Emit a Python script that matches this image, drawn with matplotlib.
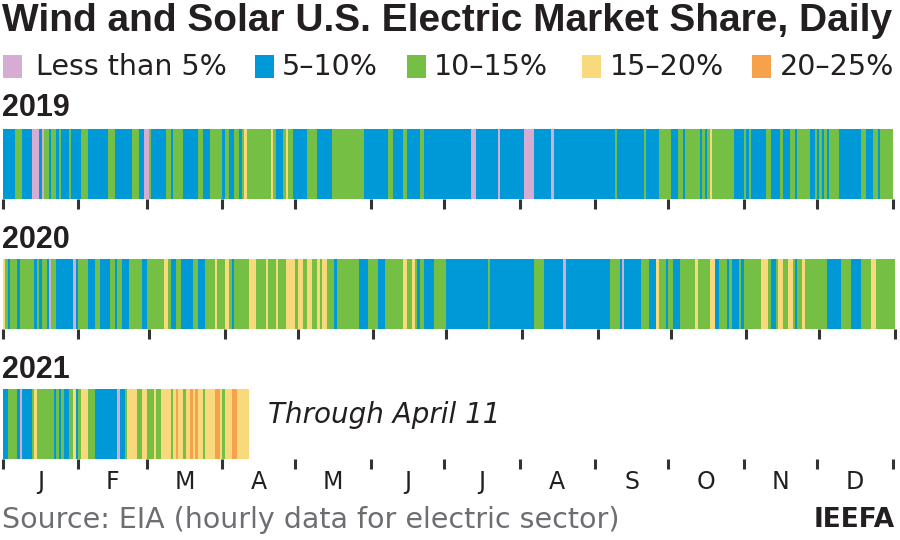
import numpy as np
import matplotlib.pyplot as plt
from matplotlib.patches import Rectangle

plt.rcParams['font.family'] = ['DejaVu Sans']

# share categories and colours
categories = ['Less than 5%', '5–10%', '10–15%', '15–20%', '20–25%']
colors = ['#d7acd2', '#0099d8', '#74bf44', '#f8da7c', '#f5a24a']
months = ['J', 'F', 'M', 'A', 'M', 'J', 'J', 'A', 'S', 'O', 'N', 'D']
month_days = [31, 28, 31, 30, 31, 30, 31, 31, 30, 31, 30, 31]
month_days_leap = [31, 29, 31, 30, 31, 30, 31, 31, 30, 31, 30, 31]

# daily data as runs: (category index, day of year where the run ends)
runs_2019 = [(1, 5), (2, 8), (1, 12), (0, 15), (1, 16), (0, 17), (2, 19), (1, 20),
             (2, 22), (1, 23), (2, 24), (1, 27), (2, 28), (1, 32), (2, 35), (1, 43),
             (2, 46), (1, 53), (2, 56), (1, 58), (0, 60), (2, 61), (1, 67), (2, 69),
             (1, 70), (2, 74), (1, 80), (2, 82), (1, 85), (2, 90), (1, 91), (2, 93),
             (1, 95), (2, 97), (1, 98), (2, 99), (3, 100), (2, 110), (3, 111), (2, 112),
             (1, 115), (2, 116), (3, 117), (2, 119), (1, 125), (2, 129), (1, 135), (2, 148),
             (1, 158), (2, 160), (1, 164), (2, 166), (1, 171), (2, 173), (1, 192), (0, 194),
             (1, 203), (0, 204), (1, 214), (0, 218), (1, 225), (0, 226), (1, 251), (2, 252),
             (1, 263), (2, 264), (1, 269), (2, 274), (1, 277), (2, 279), (1, 280), (2, 286),
             (1, 287), (2, 288), (1, 289), (2, 290), (3, 291), (2, 300), (1, 304), (2, 305),
             (1, 306), (2, 307), (1, 313), (2, 315), (1, 319), (2, 320), (1, 323), (2, 325),
             (1, 326), (2, 331), (1, 333), (2, 334), (1, 335), (2, 336), (1, 337), (2, 338),
             (1, 339), (2, 343), (1, 352), (2, 354), (1, 357), (2, 359), (1, 360), (2, 365)]

runs_2020 = [(3, 1), (2, 2), (1, 3), (2, 6), (1, 7), (2, 13), (1, 14), (2, 15),
             (1, 16), (2, 18), (1, 19), (0, 20), (2, 22), (1, 29), (0, 30), (1, 31),
             (2, 35), (1, 38), (2, 40), (1, 44), (2, 46), (1, 47), (2, 49), (1, 52),
             (2, 57), (1, 59), (2, 66), (3, 68), (2, 69), (1, 71), (2, 73), (1, 78),
             (2, 80), (1, 83), (2, 87), (3, 88), (2, 91), (3, 93), (2, 94), (1, 95),
             (2, 101), (3, 104), (2, 108), (3, 109), (2, 112), (3, 113), (2, 116), (3, 120),
             (2, 121), (3, 123), (2, 125), (3, 127), (2, 129), (3, 130), (2, 131), (3, 133),
             (2, 136), (1, 137), (2, 146), (1, 150), (2, 154), (1, 157), (2, 164), (3, 166),
             (2, 168), (3, 169), (2, 170), (1, 171), (2, 173), (1, 177), (2, 182), (1, 199),
             (2, 200), (1, 218), (2, 222), (1, 230), (0, 231), (1, 249), (2, 253), (1, 254),
             (0, 255), (1, 262), (2, 265), (1, 268), (3, 269), (2, 272), (1, 273), (2, 275),
             (1, 278), (2, 284), (3, 285), (2, 290), (3, 292), (1, 294), (2, 297), (1, 298),
             (2, 299), (1, 302), (2, 303), (1, 304), (2, 311), (3, 314), (2, 315), (1, 317),
             (2, 318), (3, 320), (2, 322), (3, 324), (2, 325), (1, 326), (2, 328), (3, 329),
             (2, 338), (1, 344), (2, 348), (1, 352), (2, 356), (3, 358), (2, 366)]

runs_2021 = [(1, 2), (2, 6), (1, 7), (0, 8), (1, 12), (2, 13), (3, 14), (2, 21),
             (1, 22), (2, 23), (1, 24), (2, 25), (1, 27), (2, 29), (3, 30), (1, 31),
             (2, 32), (3, 35), (2, 38), (1, 47), (0, 48), (1, 50), (2, 51), (3, 55),
             (2, 57), (3, 59), (2, 62), (3, 63), (2, 65), (3, 69), (2, 70), (3, 71),
             (4, 72), (3, 74), (2, 75), (3, 77), (4, 78), (3, 79), (4, 80), (3, 82),
             (2, 83), (3, 87), (4, 89), (3, 90), (2, 91), (3, 94), (4, 96), (3, 101)]

W, H = 900, 540
fig = plt.figure(figsize=(9, 5.4), dpi=100)


def px(x, y):
    return x / W, 1 - y / H


def strip(top, runs, mdays, labels=False):
    left = 2.7 / W
    width = 366 * 2.438 / W
    ax = fig.add_axes([left, 1 - (top + 70) / H, width, 70 / H])
    cats = [c for c, e in runs]
    ends = np.array([e for c, e in runs])
    starts = np.concatenate([[0], ends[:-1]])
    ax.barh(0, ends - starts, left=starts, height=1,
            color=[colors[c] for c in cats], linewidth=0)
    ax.set_xlim(0, 366)
    ax.set_ylim(-0.5, 0.5)
    bounds = np.concatenate([[0], np.cumsum(mdays)])
    ax.set_xticks(bounds)
    ax.set_xticklabels([])
    ax.tick_params(axis='x', which='major', length=7.5, width=2.2,
                   color='#333333', direction='out')
    ax.set_yticks([])
    for s in ax.spines.values():
        s.set_visible(False)
    if labels:
        mids = (bounds[:-1] + bounds[1:]) / 2
        ax.set_xticks(mids, minor=True)
        ax.set_xticklabels(months, minor=True)
        ax.tick_params(axis='x', which='minor', length=0, pad=8,
                       labelsize=17, labelcolor='#231f20')
    return ax


strip(129, runs_2019, month_days)
strip(259, runs_2020, month_days_leap)
strip(389, runs_2021, month_days, labels=True)

# title
fig.text(*px(2, 21), 'Wind and Solar U.S. Electric Market Share, Daily',
         fontsize=28, fontweight='bold', family='Liberation Sans',
         va='center', ha='left', color='#231f20')

# legend
sq_x = [3, 255, 407, 582, 752]
txt_x = [36, 282, 434, 610, 780]
for i, lab in enumerate(categories):
    x0, y0 = px(sq_x[i], 78)
    fig.add_artist(Rectangle((x0, y0), 19 / W, 23 / H, transform=fig.transFigure,
                             facecolor=colors[i], edgecolor='none'))
    fig.text(*px(txt_x[i], 67), lab, fontsize=20.5, va='center', ha='left',
             color='#231f20')

# year labels
for yr, y in [('2019', 108), ('2020', 240), ('2021', 370)]:
    fig.text(*px(2, y), yr, fontsize=22, fontweight='bold', family='Liberation Sans',
             va='center', ha='left', color='#231f20')

fig.text(*px(268, 415), 'Through April 11', fontsize=20, style='italic',
         va='center', ha='left', color='#231f20')

fig.text(*px(2, 520), 'Source: EIA (hourly data for electric sector)', fontsize=20.5,
         va='center', ha='left', color='#6d6e71')
fig.text(*px(895, 520), 'IEEFA', fontsize=19, fontweight='bold', va='center',
         ha='right', color='#231f20')

fig.savefig('out.png', dpi=100)
